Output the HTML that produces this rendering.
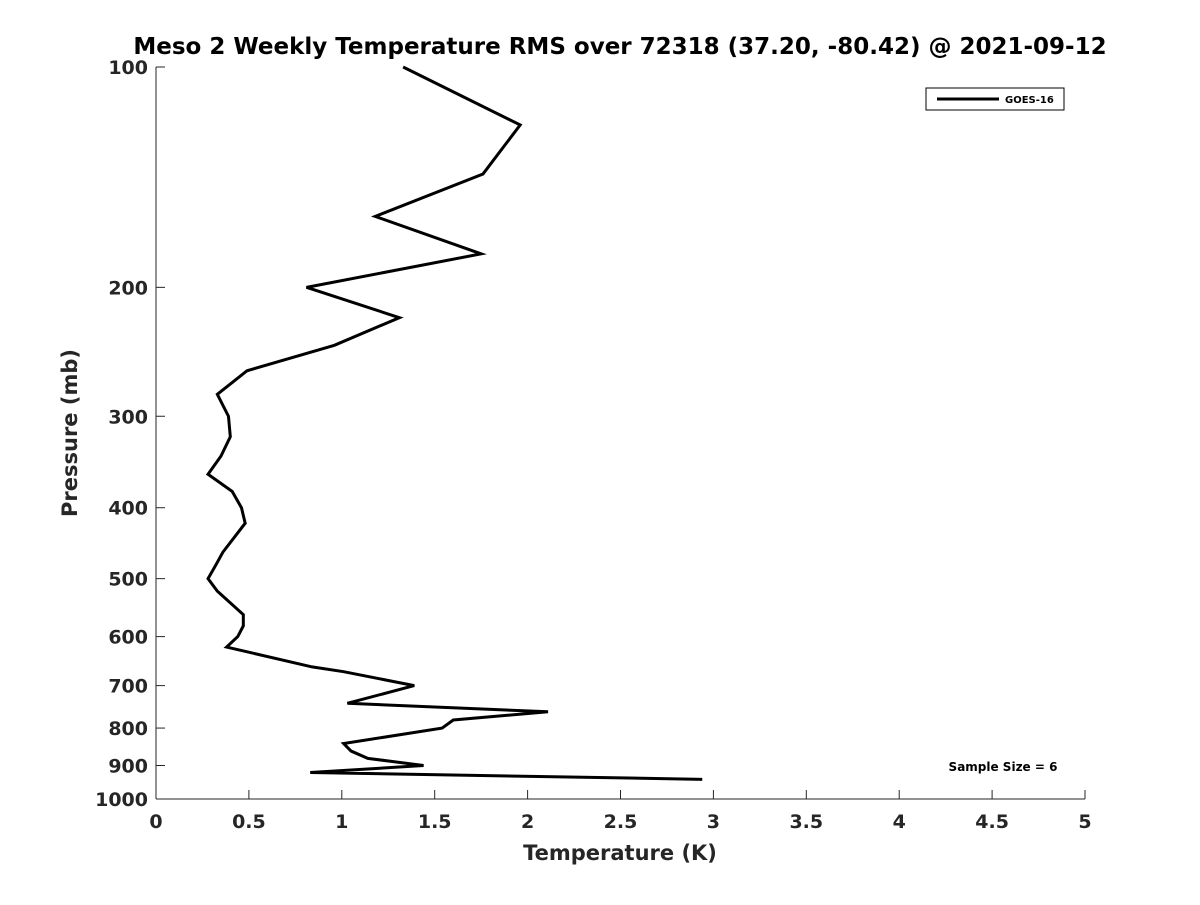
<!DOCTYPE html>
<html><head><meta charset="utf-8"><style>
body{margin:0;background:#fff}
svg text{font-family:"DejaVu Sans","Liberation Sans",sans-serif;font-weight:bold;fill:#262626}
</style></head><body>
<svg id="chart" width="1200" height="900" xmlns="http://www.w3.org/2000/svg">
<rect width="1200" height="900" fill="#fff"/>
<text x="620" y="54" font-size="23" text-anchor="middle" style="fill:#000">Meso 2 Weekly Temperature RMS over 72318 (37.20, -80.42) @ 2021-09-12</text>
<g id="axes"></g>
<polyline id="series" fill="none" stroke="#000" stroke-width="3" stroke-linejoin="miter"/>
<text x="620" y="860" font-size="21" text-anchor="middle">Temperature (K)</text>
<text transform="translate(77,433) rotate(-90)" font-size="21" text-anchor="middle">Pressure (mb)</text>
<g>
<rect x="926" y="88" width="138" height="22" fill="#fff" stroke="#000" stroke-width="1"/>
<line x1="937" y1="99" x2="999" y2="99" stroke="#000" stroke-width="3"/>
<text x="1005" y="103" font-size="10" style="fill:#000">GOES-16</text>
</g>
<text x="1003" y="771" font-size="12" text-anchor="middle" style="fill:#000">Sample Size = 6</text>
</svg>
<script>
const pressures=[100,120,140,160,180,200,220,240,260,280,300,320,340,360,380,400,420,460,480,500,520,560,580,600,620,660,670,700,740,760,780,800,840,860,880,900,920,940];
const rmsValues=[1.33,1.96,1.76,1.18,1.75,0.81,1.31,0.96,0.49,0.33,0.39,0.40,0.35,0.28,0.41,0.46,0.48,0.36,0.32,0.28,0.33,0.47,0.47,0.44,0.38,0.84,1.01,1.39,1.03,2.11,1.60,1.54,1.01,1.05,1.14,1.44,0.83,2.94];
const xTicks=[0,0.5,1,1.5,2,2.5,3,3.5,4,4.5,5];
const yTicks=[100,200,300,400,500,600,700,800,900,1000];
const L=156,R=1085,T=67,B=799;
const xs=v=>L+(v-0)/(5-0)*(R-L);
const ys=p=>T+(Math.log10(p)-2)/(3-2)*(B-T);
const NS='http://www.w3.org/2000/svg';
const ax=document.getElementById('axes');
function mk(tag,attrs){const e=document.createElementNS(NS,tag);for(const k in attrs)e.setAttribute(k,attrs[k]);return e;}
let l=mk('line',{x1:L,y1:B,x2:R,y2:B,stroke:'#262626','stroke-width':1});


ax.appendChild(l);
l=mk('line',{x1:L,y1:T,x2:L,y2:B,stroke:'#262626','stroke-width':1});


ax.appendChild(l);
xTicks.forEach(v=>{
  const t=mk('line',{x1:xs(v),y1:B,x2:xs(v),y2:B-9,stroke:'#262626'});
  
  
  ax.appendChild(t);
  const tx=mk('text',{x:xs(v),y:B+29,'font-size':19,'text-anchor':'middle'});
  
  
  tx.textContent=String(v);ax.appendChild(tx);
});
yTicks.forEach(p=>{
  const t=mk('line',{x1:L,y1:ys(p),x2:L+9,y2:ys(p),stroke:'#262626'});
  
  
  ax.appendChild(t);
  const tx=mk('text',{x:L-8,y:ys(p)+7,'font-size':19,'text-anchor':'end'});
  
  
  tx.textContent=String(p);ax.appendChild(tx);
});
document.getElementById('series').setAttribute('points',pressures.map((p,i)=>xs(rmsValues[i])+','+ys(p)).join(' '));
</script>
</body></html>
